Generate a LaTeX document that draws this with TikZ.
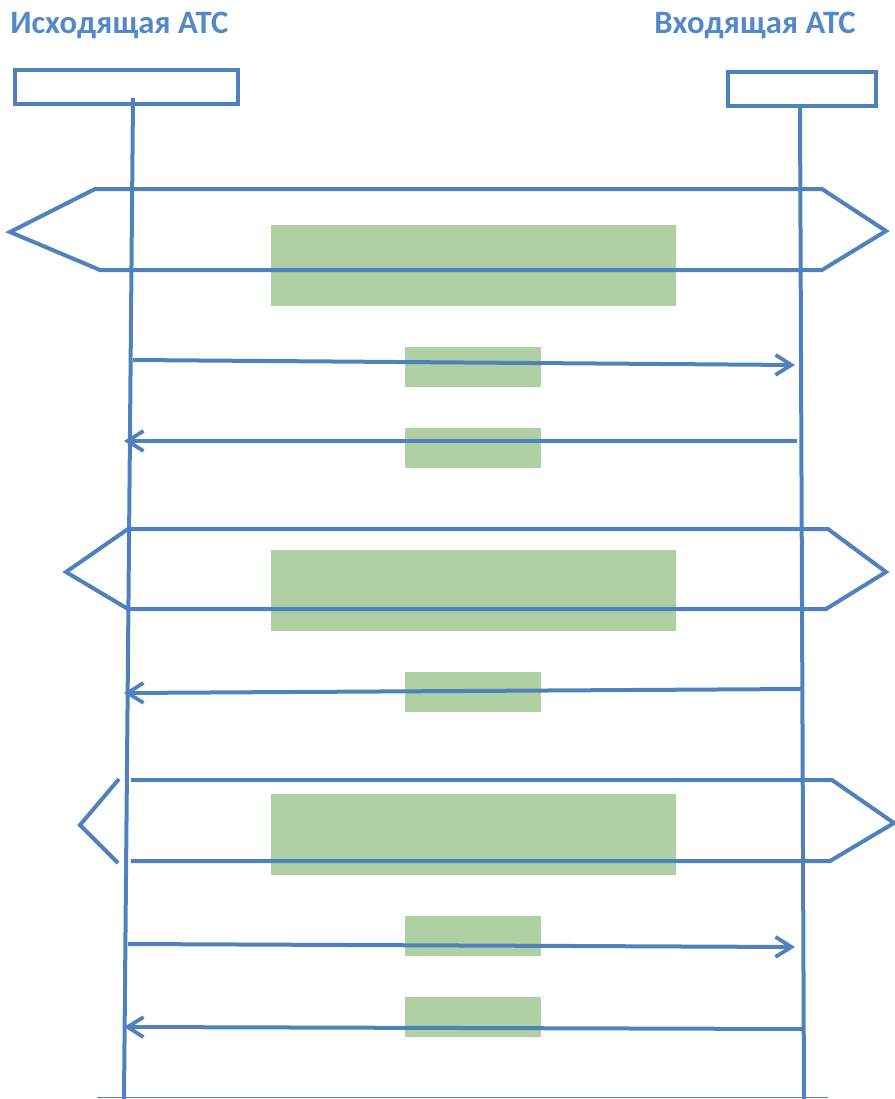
\documentclass[tikz,border=0pt]{standalone}
\usepackage{fontspec}
\setmainfont{Carlito}
\usetikzlibrary{positioning,arrows.meta,calc}

\definecolor{lineblue}{RGB}{79,129,189}
\definecolor{textblue}{RGB}{84,136,200}
\definecolor{msggreen}{RGB}{174,208,162}

\tikzset{
  sig/.style={draw=lineblue,line width=3pt},
  msg/.style={sig,-{Straight Barb[length=12pt,width=15pt,line width=2.8pt]}},
  stationbox/.style={draw=lineblue,line width=3pt,inner sep=0pt},
  title/.style={text=textblue,font=\fontsize{24.5}{26}\selectfont\bfseries,inner sep=0pt},
  wide/.style={fill=msggreen,minimum width=303.75pt,minimum height=60.75pt,inner sep=0pt},
  small/.style={fill=msggreen,minimum width=102pt,minimum height=30pt,inner sep=0pt}
}

\begin{document}
\begin{tikzpicture}[x=0.75pt,y=-0.75pt]

  \useasboundingbox (0,0) rectangle (894,1099);

  % stations
  \node[title,anchor=west] (tout) at (10,25) {Исходящая АТС};
  \node[title,anchor=east] (tin) at (856,25) {Входящая АТС};
  \node[stationbox,minimum width=167pt,minimum height=25.5pt] (aout) at (126.5,87) {};
  \node[stationbox,minimum width=111pt,minimum height=25.5pt] (ain) at (802,89) {};

  % lifelines
  \coordinate (l0) at (133,98);
  \coordinate (l1) at (124,1099);
  \coordinate (r0) at (800,106);
  \coordinate (r1) at (804,1099);

  % green labels
  \node[wide] (g1) at (473.5,265.5) {};
  \node[small] (g2) at (473,367) {};
  \node[small] (g3) at (473,448) {};
  \node[wide] (g4) at (473.5,590.5) {};
  \node[small] (g5) at (473,692) {};
  \node[wide] (g6) at (473.5,834.5) {};
  \node[small] (g7) at (473,936) {};
  \node[small] (g8) at (473,1017) {};

  \draw[sig] (l0) -- (l1);
  \draw[sig] (r0) -- (r1);

  % two-way exchanges
  \draw[sig,line join=miter] (822,189) -- (95,189) -- (10,232) -- (100,270) -- (822,270)
    -- (886,231) -- cycle;
  \draw[sig] (828,529) -- (128,529) -- (66,572) -- (128,609) -- (826,609) -- (886,572) -- cycle;
  \draw[sig] (131,780) -- (832,780) -- (894,823) -- (830,861) -- (131,861);
  \draw[sig] (119,779) -- (80,825) -- (118,863);

  % single messages
  \coordinate (m1a) at (133,360);
  \coordinate (m1b) at (795,365);
  \coordinate (m2a) at (797,441);
  \coordinate (m2b) at (124,441);
  \coordinate (m3a) at (801,689);
  \coordinate (m3b) at (124,693);
  \coordinate (m4a) at (128,944);
  \coordinate (m4b) at (795,947);
  \coordinate (m5a) at (803,1029);
  \coordinate (m5b) at (124,1027);

  \draw[msg] (m1a) -- (m1b);
  \draw[msg] (m2a) -- (m2b);
  \draw[msg] (m3a) -- (m3b);
  \draw[msg] (m4a) -- (m4b);
  \draw[msg] (m5a) -- (m5b);

  \draw[draw=lineblue,line width=1.2pt] (97,1097.5) -- (828,1097.5);

\end{tikzpicture}
\end{document}
